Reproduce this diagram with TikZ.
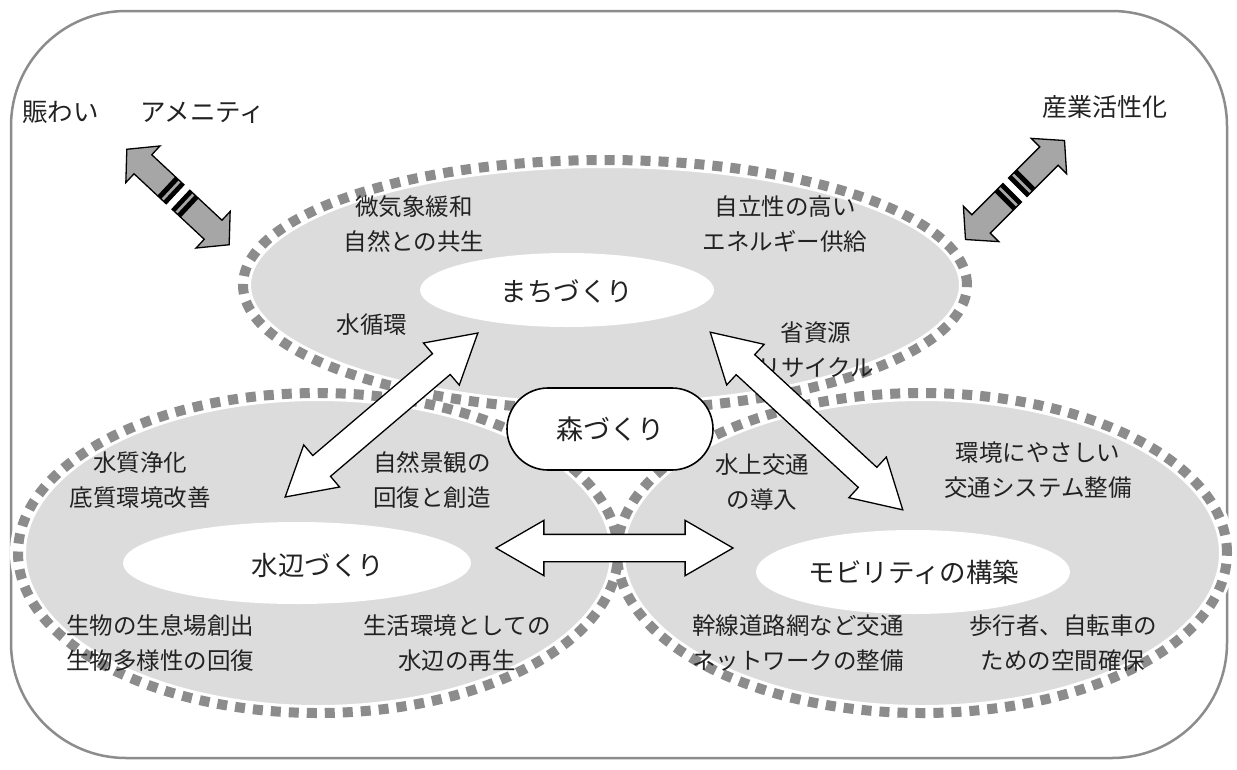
\documentclass[tikz,border=0pt]{standalone}
\usepackage{fontspec}
\setmainfont{Noto Sans CJK JP}
\usetikzlibrary{shapes.arrows}
\definecolor{dashgray}{HTML}{8C8C8C}
\definecolor{fillgray}{HTML}{DCDCDC}
\definecolor{arrgray}{HTML}{A6A6A6}
\definecolor{txt}{HTML}{222222}
\tikzset{
  lab/.style={font=\fontsize{23.5}{35}\selectfont, text=txt, align=center, inner sep=0pt},
  ttl/.style={font=\fontsize{26.5}{30}\selectfont, text=txt, inner sep=0pt},
  zone/.style={fill=fillgray},
  zoneband/.style={draw=white, line width=16pt},
  zonedash/.style={draw=dashgray, line width=10pt, dash pattern=on 10pt off 8pt},
  core/.style={fill=white},
  bigarrow/.style={double arrow, draw=black, fill=white, line width=1.3pt,
    double arrow head extend=14pt, double arrow tip angle=60,
    inner xsep=0pt, inner ysep=13pt, anchor=center},
  grayarrow/.style={fill=arrgray, draw=black, line width=1.3pt, line join=miter},
}
\begin{document}
\begin{tikzpicture}[x=1pt,y=-1pt]
\useasboundingbox (0,0) rectangle (1237,769);
\fill[white] (0,0) rectangle (1237,769);
% outer frame
\draw[draw=dashgray, line width=2.5pt, rounded corners=115pt] (11,11) rectangle (1227,758);

% three zones
\path[zone] (605,285) ellipse [x radius=362pt, y radius=125pt];
\path[zone] (318,553) ellipse [x radius=300pt, y radius=160pt];
\path[zone] (922,553) ellipse [x radius=305pt, y radius=160pt];
\path[zoneband] (605,285) ellipse [x radius=362pt, y radius=125pt];
\path[zoneband] (318,553) ellipse [x radius=300pt, y radius=160pt];
\path[zoneband] (922,553) ellipse [x radius=305pt, y radius=160pt];
\path[zonedash] (605,285) ellipse [x radius=362pt, y radius=125pt];
\path[zonedash] (318,553) ellipse [x radius=300pt, y radius=160pt];
\path[zonedash] (922,553) ellipse [x radius=305pt, y radius=160pt];

% white cores
\path[core] (567,290) ellipse [x radius=147pt, y radius=37pt];
\path[core] (297,563) ellipse [x radius=174pt, y radius=41pt];
\path[core] (913,572) ellipse [x radius=157pt, y radius=42pt];

% titles
\node[ttl] (machi) at (567,291) {まちづくり};
\node[ttl] (mizube) at (318,565) {水辺づくり};
\node[ttl] (mobi) at (914,572) {モビリティの構築};

% labels
\node[lab] (l1) at (414,224) {微気象緩和\\自然との共生};
\node[lab] (l2) at (785,224) {自立性の高い\\エネルギー供給};
\node[lab] (l3) at (816,350) {省資源\\リサイクル};
\node[lab] (l4) at (372,325) {水循環};
\node[lab] (l5) at (140,480) {水質浄化\\底質環境改善};
\node[lab] (l6) at (432,480) {自然景観の\\回復と創造};
\node[lab] (l7) at (160,643) {生物の生息場創出\\生物多様性の回復};
\node[lab] (l8) at (457,643) {生活環境としての\\水辺の再生};
\node[lab] (l9) at (762,482) {水上交通\\の導入};
\node[lab] (l10) at (1038,470) {環境にやさしい\\交通システム整備};
\node[lab] (l11) at (798,643) {幹線道路網など交通\\ネットワークの整備};
\node[lab] (l12) at (1063,643) {歩行者、自転車の\\ための空間確保};
\node[lab, font=\fontsize{25.5}{30}\selectfont, anchor=west] (l13) at (22,112) {賑わい\hspace{42pt}アメニティ};
\node[lab, font=\fontsize{25}{30}\selectfont] (l14) at (1105,107) {産業活性化};

% big white double arrows
\node[bigarrow, minimum height=253pt, rotate=40.4] (a1) at (381.5,415) {};
\node[bigarrow, minimum height=237pt] (a2) at (614.5,548) {};
\node[bigarrow, minimum height=262pt, rotate=-42.7] (a3) at (806.5,421) {};

% forest node
\node[draw=black, fill=white, line width=1.6pt, rounded corners=41pt,
      minimum width=206pt, minimum height=82pt, inner sep=0pt,
      font=\fontsize{27}{30}\selectfont, text=txt] (mori) at (610,429) {森づくり};

% gray split arrows
\foreach \cx/\cy/\ang in {178/197/-43, 1015/190/45}{
\begin{scope}[shift={(\cx,\cy)}, rotate=\ang]
  \path[grayarrow] (-70,0) -- (-48,-25) -- (-48,-13) -- (-4,-13) -- (-4,13) -- (-48,13) -- (-48,25) -- cycle;
  \path[grayarrow] (70,0) -- (48,-25) -- (48,-13) -- (4,-13) -- (4,13) -- (48,13) -- (48,25) -- cycle;
  \fill[black] (-16,-13) rectangle (-11,13);
  \fill[black] (-8,-13) rectangle (-4,13);
  \fill[black] (4,-13) rectangle (8,13);
  \fill[black] (11,-13) rectangle (16,13);
\end{scope}
}
\end{tikzpicture}
\end{document}
